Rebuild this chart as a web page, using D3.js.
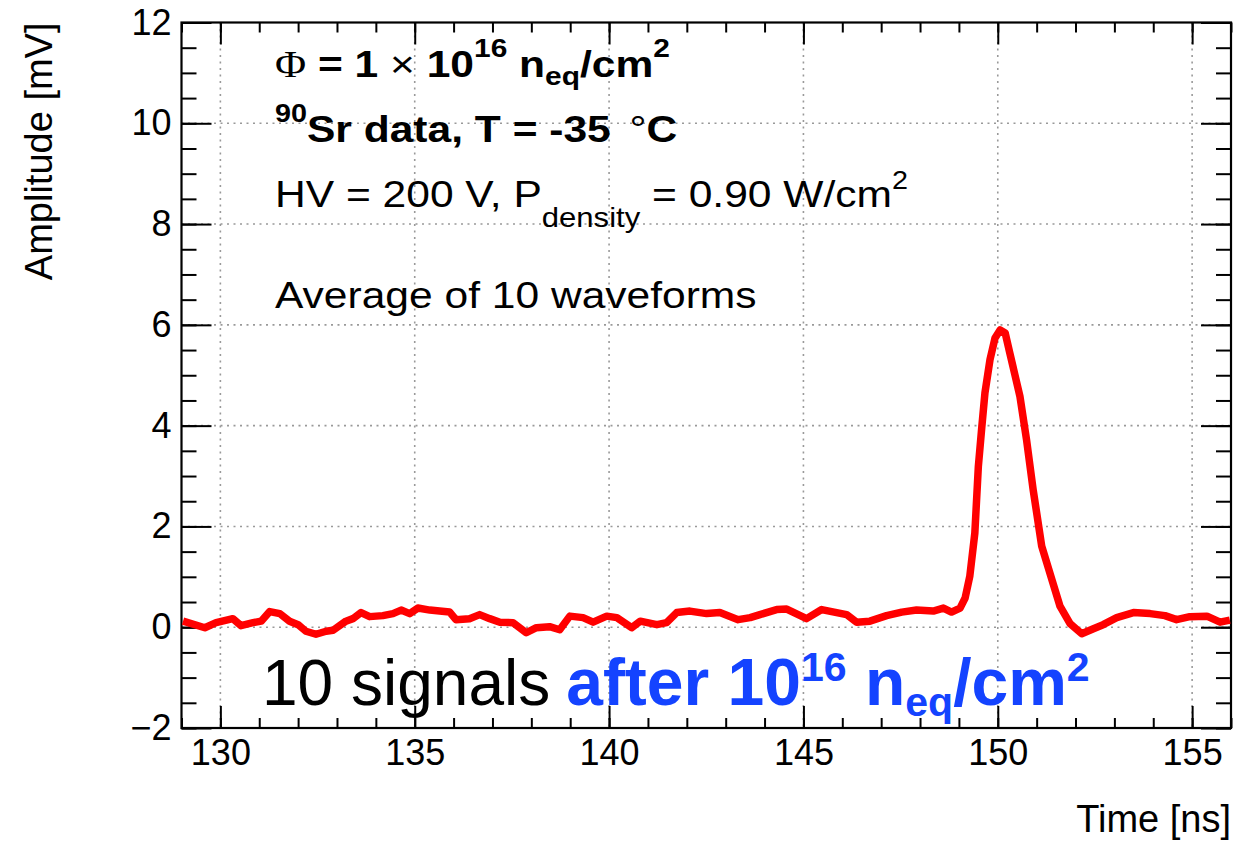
<!DOCTYPE html>
<html>
<head>
<meta charset="utf-8">
<script src="https://cdn.jsdelivr.net/npm/d3@7"></script>
<style>
  body { margin: 0; background: #fff; }
  svg { font-family: "Liberation Sans", Arial, Helvetica, sans-serif; }
</style>
</head>
<body>
<div id="chart"></div>
<script>
// waveform: time [ns] and amplitude [mV]
const times = [129.04, 129.60, 129.89, 130.32, 130.53, 130.84, 131.05, 131.27, 131.53, 131.78,
  132.00, 132.20, 132.46, 132.72, 132.90, 133.23, 133.41, 133.62, 133.84, 134.18,
  134.44, 134.65, 134.87, 135.08, 135.39, 135.64, 135.90, 136.06, 136.41, 136.67,
  136.93, 137.19, 137.53, 137.87, 138.13, 138.47, 138.73, 138.99, 139.33, 139.59,
  139.94, 140.20, 140.58, 140.80, 141.23, 141.48, 141.74, 142.08, 142.51, 142.85,
  143.32, 143.63, 143.88, 144.31, 144.57, 145.08, 145.47, 146.11, 146.37, 146.71,
  147.14, 147.53, 147.91, 148.34, 148.60, 148.81, 149.03, 149.16, 149.28, 149.41,
  149.50, 149.59, 149.67, 149.80, 149.93, 150.06, 150.19, 150.31, 150.44, 150.57,
  150.74, 150.91, 151.13, 151.39, 151.60, 151.86, 152.16, 152.46, 152.71, 153.06,
  153.49, 153.92, 154.30, 154.60, 154.94, 155.38, 155.72, 155.97];
const amplitudes = [0.12, -0.01, 0.09, 0.17, 0.03, 0.09, 0.12, 0.31, 0.27, 0.12,
  0.05, -0.08, -0.14, -0.08, -0.06, 0.12, 0.17, 0.29, 0.21, 0.23,
  0.27, 0.34, 0.27, 0.38, 0.34, 0.32, 0.30, 0.15, 0.17, 0.25,
  0.17, 0.10, 0.09, -0.11, -0.01, 0.01, -0.05, 0.22, 0.19, 0.10,
  0.22, 0.19, -0.01, 0.12, 0.05, 0.09, 0.29, 0.32, 0.27, 0.29,
  0.15, 0.19, 0.25, 0.35, 0.36, 0.17, 0.35, 0.25, 0.10, 0.12,
  0.23, 0.30, 0.34, 0.32, 0.38, 0.30, 0.38, 0.58, 1.01, 1.87,
  3.19, 3.98, 4.65, 5.31, 5.74, 5.90, 5.84, 5.44, 5.01, 4.58,
  3.72, 2.73, 1.61, 0.95, 0.42, 0.07, -0.13, -0.03, 0.05, 0.19,
  0.29, 0.27, 0.23, 0.15, 0.21, 0.22, 0.10, 0.14];

const xMajor = [130, 135, 140, 145, 150, 155];
const yMajor = [-2, 0, 2, 4, 6, 8, 10, 12];
const xMinor = d3.range(129, 157, 1);
const yMinor = d3.range(-2, 12.01, 0.5);

const W = 1255, H = 841;
const MARGIN = { LEFT: 181.5, RIGHT: 24, TOP: 22.5, BOTTOM: 113 };
const WIDTH = W - MARGIN.LEFT - MARGIN.RIGHT;
const HEIGHT = H - MARGIN.TOP - MARGIN.BOTTOM;

const svg = d3.select("#chart").append("svg")
  .attr("width", W)
  .attr("height", H);

const g = svg.append("g")
  .attr("transform", `translate(${MARGIN.LEFT}, ${MARGIN.TOP})`);

const x = d3.scaleLinear().domain([129, 156]).range([0, WIDTH]);
const y = d3.scaleLinear().domain([-2, 12]).range([HEIGHT, 0]);

// dotted grid
g.append("g").selectAll("line")
  .data(xMajor)
  .join("line")
  .attr("x1", d => x(d)).attr("x2", d => x(d))
  .attr("y1", 0).attr("y2", HEIGHT)
  .attr("stroke", "#999").attr("stroke-width", 1.6)
  .attr("stroke-dasharray", "2,4.5");
g.append("g").selectAll("line")
  .data(yMajor.filter(d => d > -2 && d < 12))
  .join("line")
  .attr("x1", 0).attr("x2", WIDTH)
  .attr("y1", d => y(d)).attr("y2", d => y(d))
  .attr("stroke", "#999").attr("stroke-width", 1.6)
  .attr("stroke-dasharray", "2,4.5");

// axes, ROOT style: ticks pointing inward on all four sides
function styleAxis(sel) {
  sel.select(".domain").remove();
  sel.selectAll(".tick line").attr("stroke", "#000").attr("stroke-width", 2);
  sel.selectAll("text").attr("font-size", 36).attr("fill", "#000");
}

g.append("g").attr("transform", `translate(0, ${HEIGHT})`)
  .call(d3.axisBottom(x).tickValues(xMinor).tickSize(-10).tickFormat(""))
  .call(styleAxis);
g.append("g").attr("transform", `translate(0, ${HEIGHT})`)
  .call(d3.axisBottom(x).tickValues(xMajor).tickSize(-22).tickPadding(11).tickFormat(d3.format("d")))
  .call(styleAxis);
g.append("g")
  .call(d3.axisTop(x).tickValues(xMinor).tickSize(-10).tickFormat(""))
  .call(styleAxis);
g.append("g")
  .call(d3.axisTop(x).tickValues(xMajor).tickSize(-22).tickFormat(""))
  .call(styleAxis);

g.append("g")
  .call(d3.axisLeft(y).tickValues(yMinor).tickSize(-15).tickFormat(""))
  .call(styleAxis);
g.append("g")
  .call(d3.axisLeft(y).tickValues(yMajor).tickSize(-30).tickPadding(10)
    .tickFormat(d => d < 0 ? "\u2212" + Math.abs(d) : d))
  .call(styleAxis);
g.append("g").attr("transform", `translate(${WIDTH}, 0)`)
  .call(d3.axisRight(y).tickValues(yMinor).tickSize(-15).tickFormat(""))
  .call(styleAxis);
g.append("g").attr("transform", `translate(${WIDTH}, 0)`)
  .call(d3.axisRight(y).tickValues(yMajor).tickSize(-30).tickFormat(""))
  .call(styleAxis);

// frame
g.append("rect")
  .attr("width", WIDTH).attr("height", HEIGHT)
  .attr("fill", "none").attr("stroke", "#000").attr("stroke-width", 2.2);

// waveform
const line = d3.line()
  .x((d, i) => x(times[i]))
  .y(d => y(d));

g.append("path")
  .datum(amplitudes)
  .attr("d", line)
  .attr("fill", "none")
  .attr("stroke", "#ff0000")
  .attr("stroke-width", 7.5)
  .attr("stroke-linejoin", "round");

// axis titles
svg.append("text")
  .attr("x", MARGIN.LEFT + WIDTH).attr("y", 832)
  .attr("text-anchor", "end").attr("font-size", 38)
  .text("Time [ns]");
svg.append("text")
  .attr("transform", `translate(52, ${MARGIN.TOP}) rotate(-90)`)
  .attr("text-anchor", "end").attr("font-size", 38)
  .text("Amplitude [mV]");

// annotations (the original text is a little wide, hence the x stretch)
const ann = svg.append("g").attr("font-size", 37);
const stretch = (yy) => `translate(275, ${yy}) scale(1.15, 1)`;

const l1 = ann.append("text").attr("transform", stretch(77)).attr("font-weight", "bold");
l1.append("tspan").attr("font-weight", "normal").attr("font-family", "'Liberation Serif', serif").text("\u03A6");
l1.append("tspan").text(" = 1 ");
l1.append("tspan").attr("font-weight", "normal").text("\u00D7");
l1.append("tspan").text(" 10");
l1.append("tspan").attr("font-size", 26).attr("dy", -20).text("16");
l1.append("tspan").attr("dy", 20).text(" n");
l1.append("tspan").attr("font-size", 26).attr("dy", 8).text("eq");
l1.append("tspan").attr("dy", -8).text("/cm");
l1.append("tspan").attr("font-size", 26).attr("dy", -20).text("2");

const l2 = ann.append("text").attr("transform", stretch(142)).attr("font-weight", "bold");
l2.append("tspan").attr("font-size", 25).attr("dy", -20).text("90");
l2.append("tspan").attr("dy", 20).text("Sr data, T = -35 ");
l2.append("tspan").attr("font-weight", "normal").attr("dx", 6).text("\u00B0");
l2.append("tspan").text("C");

const l3 = ann.append("text").attr("transform", stretch(207));
l3.append("tspan").text("HV = 200 V, P");
l3.append("tspan").attr("font-size", 27).attr("dy", 20).text("density");
l3.append("tspan").attr("dy", -20).text(" = 0.90 W/cm");
l3.append("tspan").attr("font-size", 25).attr("dy", -18).text("2");

ann.append("text").attr("transform", stretch(308)).text("Average of 10 waveforms");

// big label at the bottom
const big = svg.append("text").attr("x", 262).attr("y", 705).attr("font-size", 64);
big.append("tspan").attr("fill", "#000").text("10 signals");
const blue = "#1443ff";
big.append("tspan").attr("fill", blue).attr("font-weight", "bold").attr("font-size", 66).attr("dx", 16).text("after 10");
big.append("tspan").attr("fill", blue).attr("font-weight", "bold").attr("font-size", 41).attr("dy", -24).text("16");
big.append("tspan").attr("fill", blue).attr("font-weight", "bold").attr("font-size", 66).attr("dy", 24).text(" n");
big.append("tspan").attr("fill", blue).attr("font-weight", "bold").attr("font-size", 41).attr("dy", 11).text("eq");
big.append("tspan").attr("fill", blue).attr("font-weight", "bold").attr("font-size", 66).attr("dy", -11).text("/cm");
big.append("tspan").attr("fill", blue).attr("font-weight", "bold").attr("font-size", 41).attr("dy", -24).text("2");
</script>
</body>
</html>
